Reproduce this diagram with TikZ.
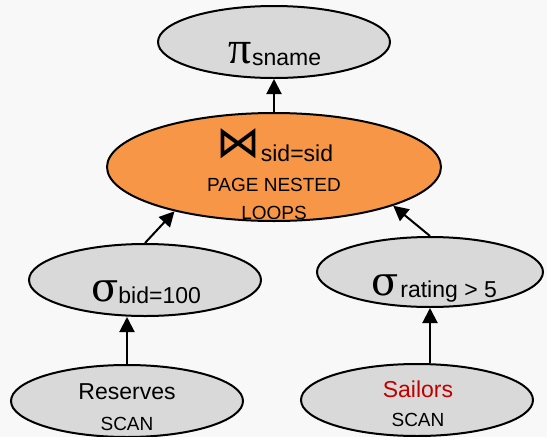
\documentclass[tikz,border=0pt]{standalone}
\usepackage{fontspec}
\setmainfont{Liberation Sans}
\newfontfamily\greekfont{DejaVu Serif}
\newfontfamily\pifont{Liberation Serif}
\newfontfamily\symfont{DejaVu Sans}
\usetikzlibrary{shapes.geometric,arrows.meta}
\definecolor{bg}{HTML}{F8F8F8}
\definecolor{nodegray}{HTML}{D9D9D9}
\definecolor{joinorange}{HTML}{F79646}
\definecolor{sailred}{HTML}{C00000}
\newcommand{\gk}[1]{{\greekfont\fontsize{40}{40}\selectfont #1}}
\newcommand{\pk}[1]{{\pifont\fontsize{46}{46}\selectfont #1}}
\newcommand{\sbs}[1]{{\fontsize{23}{23}\selectfont #1}}
\newcommand{\sml}[1]{{\fontsize{19}{19}\selectfont #1}}
\begin{document}
\begin{tikzpicture}[x=1pt,y=-1pt,
  op/.style={ellipse, draw=black, line width=2pt, fill=nodegray, inner sep=0pt},
  lbl/.style={anchor=base, inner sep=0pt},
  conn/.style={line width=2pt, -{Triangle[length=15pt,width=15pt]}}]
\fill[bg] (0,0) rectangle (547,437);
\useasboundingbox (0,0) rectangle (547,437);
% ellipses
\node[op, minimum width=232pt, minimum height=72pt] (pi) at (274,42) {};
\node[op, fill=joinorange, minimum width=334pt, minimum height=108pt] (join) at (274,167) {};
\node[op, minimum width=232pt, minimum height=72pt] (sb) at (145,280) {};
\node[op, minimum width=226pt, minimum height=70pt] (sr) at (430,272) {};
\node[op, minimum width=232pt, minimum height=72pt] (res) at (127,401) {};
\node[op, minimum width=232pt, minimum height=72pt] (sail) at (417,400) {};
% labels
\node[lbl] (pit) at (275,63) {\pk{π}\raisebox{-2pt}{\sbs{sname}}};
\node[lbl] (joint) at (275,161) {\raisebox{4pt}{\symfont\fontsize{44}{44}\selectfont ⋈}\sbs{sid=sid}};
\node[lbl] (joint2) at (274,191) {\sml{PAGE NESTED}};
\node[lbl] (joint3) at (274,219) {\sml{LOOPS}};
\node[lbl] (sbt) at (146,301) {\gk{σ}\raisebox{-2pt}{\sbs{bid=100}}};
\node[lbl] (srt) at (434,295) {\gk{σ}\hspace{2pt}\raisebox{-2pt}{\sbs{rating > 5}}};
\node[lbl] (rest) at (127,399) {\sbs{Reserves}};
\node[lbl] (rest2) at (127,430) {\sml{SCAN}};
\node[lbl, text=sailred] (sailt) at (418,397) {\sbs{Sailors}};
\node[lbl] (sailt2) at (418,426) {\sml{SCAN}};
% connectors
\draw[conn] (join.north) -- (pi.south);
\draw[conn] (sb.north) -- (join.204);
\draw[conn] (sr.north) -- (join.342);
\draw[conn] (res.north) -- (res.north |- sb.south);
\draw[conn] (sr.south |- sail.north) -- (sr.south);
\end{tikzpicture}
\end{document}
